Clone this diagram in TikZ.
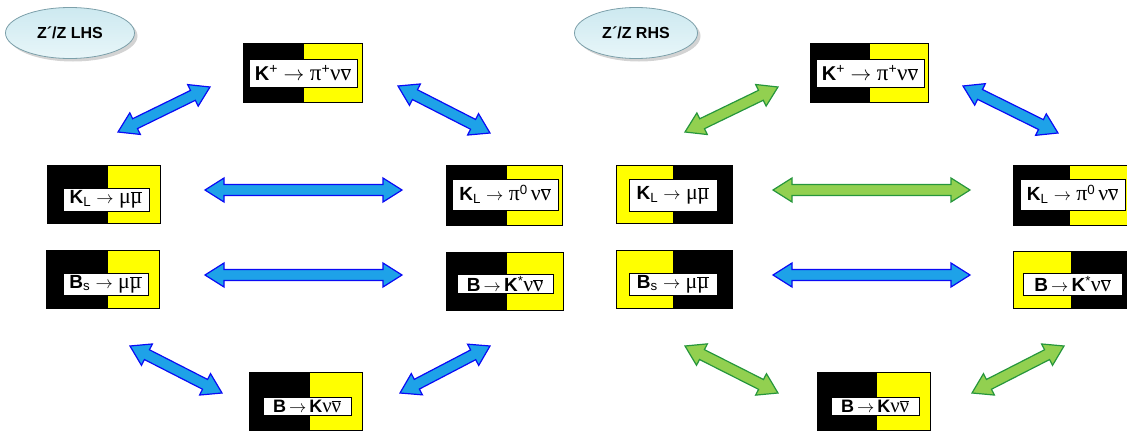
\documentclass[tikz,border=0pt]{standalone}
\usepackage{fontspec}
\setmainfont{Liberation Sans}
\newfontfamily\grk[Scale=1.15]{Liberation Serif}
\usetikzlibrary{shapes.geometric,shadows,calc}
\definecolor{yel}{RGB}{255,255,0}
\definecolor{bfill}{RGB}{30,162,232}
\definecolor{bline}{RGB}{10,10,245}
\definecolor{gfill}{RGB}{146,208,80}
\definecolor{gline}{RGB}{38,150,60}
\definecolor{elltop}{RGB}{205,233,240}
\definecolor{ellbot}{RGB}{232,246,249}
\definecolor{elline}{RGB}{125,160,170}
\newcommand\obar[1]{\ensuremath{\overline{\hbox{#1}}}}
\newcommand\halfbox[8]{%
  \fill[#7] (#2,#3) rectangle (#6,#5);
  \fill[#8] (#6,#3) rectangle (#4,#5);
  \draw[boxline] (#2,#3) rectangle (#4,#5);
  \coordinate (#1) at ({(#2+#4)/2},{(#3+#5)/2});}
\newcommand\fatarr[3]{%
  \path let \p1=(#2), \p2=(#3) in \pgfextra{%
    \pgfmathsetmacro\fa{atan2(\y2-\y1,\x2-\x1)}%
    \pgfmathsetmacro\fl{veclen(\x2-\x1,\y2-\y1)}%
    \xdef\FA{\fa}\xdef\FL{\fl}};
  \begin{scope}[shift={(#2)}, rotate=\FA]
    \draw[#1] (0,0) -- (19,12) -- (19,5.5) -- ({\FL-19},5.5) -- ({\FL-19},12) -- (\FL,0)
      -- ({\FL-19},-12) -- ({\FL-19},-5.5) -- (19,-5.5) -- (19,-12) -- cycle;
  \end{scope}}
\tikzset{
  boxline/.style={draw=black, line width=0.6pt},
  wbox/.style={draw=black, line width=0.6pt, fill=white, inner sep=0pt, anchor=center},
  blu/.style={fill=bfill, draw=bline, line width=1.2pt, line join=miter},
  grn/.style={fill=gfill, draw=gline, line width=1.2pt, line join=miter},
  oval/.style={ellipse, draw=elline, line width=0.8pt, top color=elltop, bottom color=ellbot,
    drop shadow={shadow xshift=3pt, shadow yshift=-3pt, opacity=0.35},
    font=\bfseries\fontsize{16}{16}\selectfont, inner sep=0pt},
  fA/.style={font=\fontsize{20}{20}\selectfont},
  fB/.style={font=\fontsize{19}{19}\selectfont},
  fC/.style={font=\fontsize{18}{18}\selectfont},
}
\begin{document}
\begin{tikzpicture}[x=1pt,y=-1pt]
\useasboundingbox (0,0) rectangle (1127,434);

% ellipses
\node[oval, minimum width=129, minimum height=51] (lhs) at (70,33) {Z´/Z LHS};
\node[oval, minimum width=123, minimum height=51] (rhs) at (636,33) {Z´/Z RHS};

% ---------- left half ----------
\halfbox{kpL}{243}{43}{362}{102}{304}{black}{yel}
\node[wbox, fA, minimum width=108, minimum height=28] (tkpL) at (303,73)
  {{\bfseries K}\textsuperscript{+} $\rightarrow$ {\grk π}\textsuperscript{+}{\grk ν\obar{ν}}};
\halfbox{klmL}{47}{165}{160}{223}{108}{black}{yel}
\node[wbox, fB, minimum width=86, minimum height=23] (tklmL) at (106,199.5)
  {{\bfseries K}\textsubscript{L} $\rightarrow$ {\grk μ\obar{μ}}};
\halfbox{klpL}{446}{165}{562}{225}{507}{black}{yel}
\node[wbox, fB, minimum width=106, minimum height=31] (tklpL) at (505,194.5)
  {{\bfseries K}\textsubscript{L} $\rightarrow$ {\grk π}\textsuperscript{0}\,{\grk ν\obar{ν}}};
\halfbox{bsL}{46}{250}{159}{308}{108}{black}{yel}
\node[wbox, fB, minimum width=85, minimum height=22] (tbsL) at (105.5,284)
  {{\bfseries B}\textsubscript{s} $\rightarrow$ {\grk μ\obar{μ}}};
\halfbox{bksL}{446}{252}{563}{310}{507}{black}{yel}
\node[wbox, fB, minimum width=96, minimum height=19] (tbksL) at (505,284)
  {{\bfseries B}\,$\rightarrow$\,{\bfseries K}\textsuperscript{*}{\grk ν\obar{ν}}};
\halfbox{bkL}{249}{372}{362}{430}{310}{black}{yel}
\node[wbox, fC, minimum width=88, minimum height=18] (tbkL) at (307,406.5)
  {{\bfseries B}\,$\rightarrow$\,{\bfseries K}{\grk ν\obar{ν}}};

% ---------- right half ----------
\halfbox{kpR}{810}{43}{928}{102}{870}{black}{yel}
\node[wbox, fA, minimum width=108, minimum height=28] (tkpR) at (870,73)
  {{\bfseries K}\textsuperscript{+} $\rightarrow$ {\grk π}\textsuperscript{+}{\grk ν\obar{ν}}};
\halfbox{klmR}{616}{165}{732}{223}{673}{yel}{black}
\node[wbox, fB, minimum width=88, minimum height=32] (tklmR) at (673,195)
  {{\bfseries K}\textsubscript{L} $\rightarrow$ {\grk μ\obar{μ}}};
\halfbox{klpR}{1013}{165}{1127}{225}{1070}{black}{yel}
\node[wbox, fB, minimum width=105, minimum height=31] (tklpR) at (1072.5,194.5)
  {{\bfseries K}\textsubscript{L} $\rightarrow$ {\grk π}\textsuperscript{0}\,{\grk ν\obar{ν}}};
\halfbox{bsR}{616}{250}{732}{308}{673}{yel}{black}
\node[wbox, fB, minimum width=88, minimum height=22] (tbsR) at (673,284)
  {{\bfseries B}\textsubscript{s} $\rightarrow$ {\grk μ\obar{μ}}};
\halfbox{bksR}{1013}{251}{1127}{308}{1071}{yel}{black}
\node[wbox, fB, minimum width=99, minimum height=22] (tbksR) at (1072.5,284)
  {{\bfseries B}\,$\rightarrow$\,{\bfseries K}\textsuperscript{*}{\grk ν\obar{ν}}};
\halfbox{bkR}{817}{372}{930}{430}{877}{black}{yel}
\node[wbox, fC, minimum width=88, minimum height=18] (tbkR) at (875,406.5)
  {{\bfseries B}\,$\rightarrow$\,{\bfseries K}{\grk ν\obar{ν}}};

% ---------- arrow end points ----------
\coordinate (a1s) at (118,132); \coordinate (a1e) at (210,87);
\coordinate (a2s) at (398,86);  \coordinate (a2e) at (490,133);
\coordinate (a3s) at (205,190); \coordinate (a3e) at (402,190);
\coordinate (a4s) at (205,275); \coordinate (a4e) at (402,275);
\coordinate (a5s) at (130,346); \coordinate (a5e) at (222,393);
\coordinate (a6s) at (400,393); \coordinate (a6e) at (490,346);
\coordinate (b1s) at (685,132); \coordinate (b1e) at (778,87);
\coordinate (b2s) at (963,86);  \coordinate (b2e) at (1058,133);
\coordinate (b3s) at (773,190); \coordinate (b3e) at (970,190);
\coordinate (b4s) at (773,275); \coordinate (b4e) at (970,275);
\coordinate (b5s) at (685,346); \coordinate (b5e) at (778,393);
\coordinate (b6s) at (972,393); \coordinate (b6e) at (1064,346);

\fatarr{blu}{a1s}{a1e}
\fatarr{blu}{a2s}{a2e}
\fatarr{blu}{a3s}{a3e}
\fatarr{blu}{a4s}{a4e}
\fatarr{blu}{a5s}{a5e}
\fatarr{blu}{a6s}{a6e}
\fatarr{grn}{b1s}{b1e}
\fatarr{blu}{b2s}{b2e}
\fatarr{grn}{b3s}{b3e}
\fatarr{blu}{b4s}{b4e}
\fatarr{grn}{b5s}{b5e}
\fatarr{grn}{b6s}{b6e}
\end{tikzpicture}
\end{document}
